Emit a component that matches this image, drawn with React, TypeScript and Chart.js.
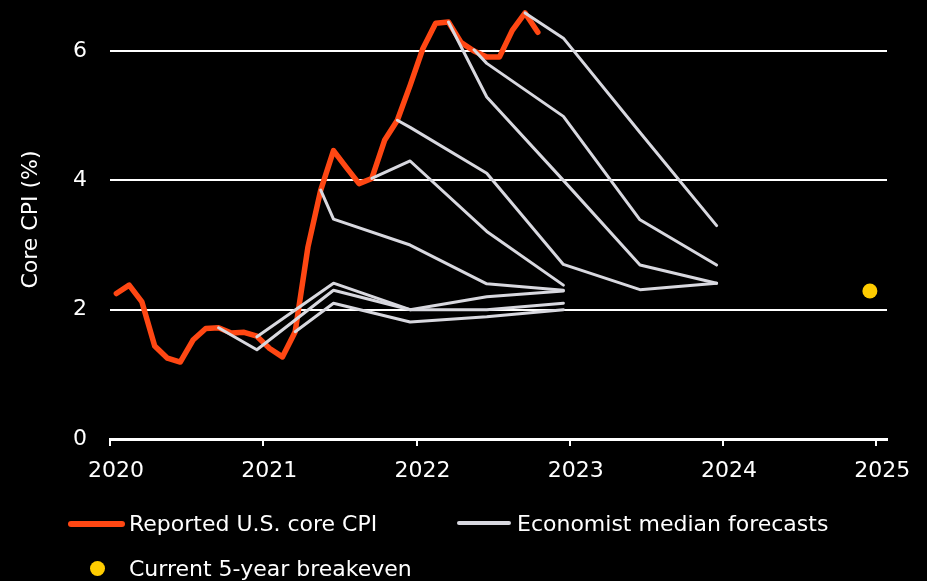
import React, { useEffect, useRef } from "react";
import { Chart, registerables } from "chart.js";

Chart.register(...registerables);

// ---- Data ----
const cpiMonths = [
  "2020-01", "2020-02", "2020-03", "2020-04", "2020-05", "2020-06",
  "2020-07", "2020-08", "2020-09", "2020-10", "2020-11", "2020-12",
  "2021-01", "2021-02", "2021-03", "2021-04", "2021-05", "2021-06",
  "2021-07", "2021-08", "2021-09", "2021-10", "2021-11", "2021-12",
  "2022-01", "2022-02", "2022-03", "2022-04", "2022-05", "2022-06",
  "2022-07", "2022-08", "2022-09", "2022-10",
];
const cpiValues = [
  2.25, 2.38, 2.12, 1.44, 1.25, 1.19,
  1.53, 1.71, 1.72, 1.64, 1.65, 1.59,
  1.40, 1.27, 1.66, 2.97, 3.85, 4.46,
  4.20, 3.95, 4.03, 4.62, 4.93, 5.47,
  6.04, 6.43, 6.45, 6.13, 6.00, 5.91,
  5.91, 6.32, 6.59, 6.29,
];

const forecastSep2020Dates = ["2020-09", "2020-12", "2021-06", "2021-12", "2022-06", "2022-12"];
const forecastSep2020Values = [1.72, 1.38, 2.30, 2.00, 2.00, 2.10];

const forecastDec2020Dates = ["2020-12", "2021-06", "2021-12", "2022-06", "2022-12"];
const forecastDec2020Values = [1.58, 2.41, 2.00, 2.20, 2.29];

const forecastMar2021Dates = ["2021-03", "2021-06", "2021-12", "2022-06", "2022-12"];
const forecastMar2021Values = [1.66, 2.10, 1.81, 1.89, 2.00];

const forecastMay2021Dates = ["2021-05", "2021-06", "2021-12", "2022-06", "2022-12"];
const forecastMay2021Values = [3.85, 3.40, 3.00, 2.40, 2.30];

const forecastSep2021Dates = ["2021-09", "2021-12", "2022-06", "2022-12"];
const forecastSep2021Values = [4.03, 4.30, 3.21, 2.38];

const forecastNov2021Dates = ["2021-11", "2021-12", "2022-06", "2022-12", "2023-06", "2023-12"];
const forecastNov2021Values = [4.93, 4.82, 4.11, 2.70, 2.31, 2.41];

const forecastMar2022Dates = ["2022-03", "2022-06", "2022-12", "2023-06", "2023-12"];
const forecastMar2022Values = [6.45, 5.29, 4.00, 2.69, 2.41];

const forecastMay2022Dates = ["2022-05", "2022-06", "2022-12", "2023-06", "2023-12"];
const forecastMay2022Values = [6.02, 5.81, 4.99, 3.39, 2.69];

const forecastSep2022Dates = ["2022-09", "2022-12", "2023-06", "2023-12"];
const forecastSep2022Values = [6.59, 6.20, 4.74, 3.30];

const breakevenDate = "2024-12";
const breakevenValue = 2.29;

const xTickYears = [2020, 2021, 2022, 2023, 2024, 2025];
const yTickValues = [0, 2, 4, 6];

const cpiLabel = "Reported U.S. core CPI";
const forecastLabel = "Economist median forecasts";
const breakevenLabel = "Current 5-year breakeven";
const yTitle = "Core CPI (%)";

// ---- Styles ----
const ORANGE = "#ff4713";
const GREY = "#d8d8df";
const YELLOW = "#ffcc00";
const WHITE = "#ffffff";
const FONT = "'DejaVu Sans', sans-serif";

function toX(m: string): number {
  const [y, mo] = m.split("-").map(Number);
  return y + (mo - 0.5) / 12;
}

function pts(dates: string[], values: number[]) {
  return dates.map((d, i) => ({ x: toX(d), y: values[i] }));
}

const forecastSeries: [string[], number[]][] = [
  [forecastSep2020Dates, forecastSep2020Values],
  [forecastDec2020Dates, forecastDec2020Values],
  [forecastMar2021Dates, forecastMar2021Values],
  [forecastMay2021Dates, forecastMay2021Values],
  [forecastSep2021Dates, forecastSep2021Values],
  [forecastNov2021Dates, forecastNov2021Values],
  [forecastMar2022Dates, forecastMar2022Values],
  [forecastMay2022Dates, forecastMay2022Values],
  [forecastSep2022Dates, forecastSep2022Values],
];

export default function App() {
  const ref = useRef<HTMLCanvasElement | null>(null);

  useEffect(() => {
    if (!ref.current) return;
    const chart = new Chart(ref.current, {
      type: "line",
      data: {
        datasets: [
          {
            label: cpiLabel,
            data: pts(cpiMonths, cpiValues),
            borderColor: ORANGE,
            backgroundColor: ORANGE,
            borderWidth: 5.5,
            pointRadius: 0,
            borderJoinStyle: "round",
            borderCapStyle: "round",
            tension: 0,
            order: 3,
            clip: false,
          } as any,
          ...forecastSeries.map(([d, v]) => ({
            label: forecastLabel,
            data: pts(d, v),
            borderColor: GREY,
            backgroundColor: GREY,
            borderWidth: 3,
            pointRadius: 0,
            borderJoinStyle: "round",
            borderCapStyle: "round",
            tension: 0,
            order: 2,
            clip: false,
          } as any)),
          {
            label: breakevenLabel,
            data: [{ x: toX(breakevenDate), y: breakevenValue }],
            showLine: false,
            pointRadius: 7.5,
            pointBackgroundColor: YELLOW,
            pointBorderColor: YELLOW,
            pointBorderWidth: 0,
            order: 1,
            clip: false,
          } as any,
        ],
      },
      options: {
        responsive: false,
        animation: false,
        devicePixelRatio: 1,
        layout: { autoPadding: false, padding: { left: 0, right: 40, top: 0, bottom: 0 } },
        plugins: {
          legend: { display: false },
          tooltip: { enabled: false },
        },
        scales: {
          x: {
            type: "linear",
            min: 2020,
            max: 2025.07,
            afterBuildTicks: (s: any) => {
              s.ticks = xTickYears.map((v) => ({ value: v }));
            },
            afterFit: (s: any) => {
              s.height = 142;
              s.paddingLeft = 0;
              s.paddingRight = 0;
            },
            ticks: {
              color: WHITE,
              font: { family: FONT, size: 22 },
              padding: 12,
              labelOffset: 6,
              autoSkip: false,
              maxRotation: 0,
              callback: (v: any) => String(v),
            },
            grid: {
              drawOnChartArea: false,
              drawTicks: true,
              tickLength: 7,
              color: WHITE,
              lineWidth: 2,
            },
            border: { display: true, color: WHITE, width: 3 },
          },
          y: {
            type: "linear",
            min: 0,
            max: 6.79,
            afterBuildTicks: (s: any) => {
              s.ticks = yTickValues.map((v) => ({ value: v }));
            },
            afterFit: (s: any) => {
              s.width = 110;
              s.paddingTop = 0;
              s.paddingBottom = 0;
            },
            ticks: {
              color: WHITE,
              font: { family: FONT, size: 22 },
              padding: 23,
              callback: (v: any) => String(v),
            },
            grid: {
              color: WHITE,
              lineWidth: 2,
              drawTicks: false,
            },
            border: { display: false },
            title: {
              display: true,
              text: yTitle,
              color: WHITE,
              font: { family: FONT, size: 22 },
              padding: { top: 18, bottom: 0 },
            },
          },
        },
      } as any,
    });
    return () => chart.destroy();
  }, []);

  const textStyle: React.CSSProperties = {
    position: "absolute",
    fontFamily: FONT,
    fontSize: 22,
    lineHeight: "26px",
    color: WHITE,
    whiteSpace: "nowrap",
  };

  return (
    <div
      style={{
        position: "fixed",
        left: 0,
        top: 0,
        width: 927,
        height: 581,
        background: "#000",
        overflow: "hidden",
      }}
    >
      <canvas
        ref={ref}
        width={927}
        height={581}
        style={{ position: "absolute", left: 0, top: 0, width: 927, height: 581 }}
      />
      <div
        style={{
          position: "absolute",
          left: 68,
          top: 520.5,
          width: 57,
          height: 6,
          borderRadius: 3,
          background: ORANGE,
        }}
      />
      <div style={{ ...textStyle, left: 129, top: 511 }}>{cpiLabel}</div>
      <div
        style={{
          position: "absolute",
          left: 457,
          top: 521,
          width: 54,
          height: 4,
          borderRadius: 2,
          background: GREY,
        }}
      />
      <div style={{ ...textStyle, left: 517, top: 511 }}>{forecastLabel}</div>
      <div
        style={{
          position: "absolute",
          left: 89.5,
          top: 560.5,
          width: 15,
          height: 15,
          borderRadius: "50%",
          background: YELLOW,
        }}
      />
      <div style={{ ...textStyle, left: 129, top: 555.5 }}>{breakevenLabel}</div>
    </div>
  );
}
